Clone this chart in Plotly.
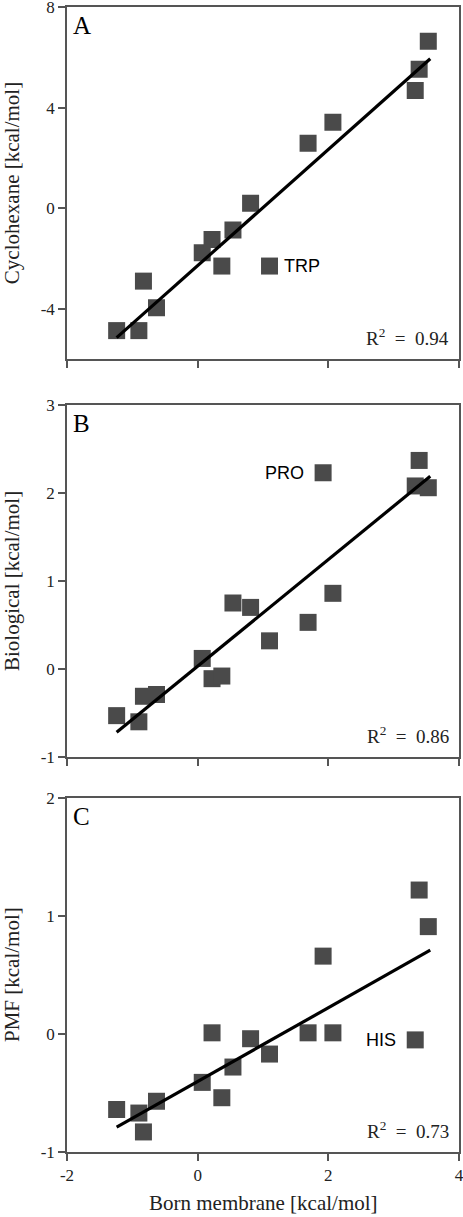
import plotly.graph_objects as go

# Born membrane energies (x, shared by all panels)
born = [-1.24, -0.90, -0.83, -0.63, 0.07, 0.22, 0.37, 0.54, 0.81, 1.10, 1.69, 2.07, 1.92, 3.33, 3.39, 3.53]
# Panel A: cyclohexane (no value for the PRO residue)
cyclohexane = [-4.87, -4.87, -2.90, -3.96, -1.77, -1.24, -2.30, -0.86, 0.20, -2.30, 2.59, 3.42, None, 4.69, 5.53, 6.65]
# Panel B: biological scale
biological = [-0.53, -0.60, -0.31, -0.29, 0.12, -0.11, -0.08, 0.75, 0.70, 0.32, 0.53, 0.86, 2.23, 2.08, 2.37, 2.06]
# Panel C: PMF
pmf = [-0.64, -0.67, -0.83, -0.57, -0.41, 0.01, -0.54, -0.28, -0.04, -0.17, 0.01, 0.01, 0.66, -0.05, 1.22, 0.91]

# fitted regression line end points
fit_x = [-1.24, 3.56]
fit_a = [-5.15, 5.95]
fit_b = [-0.72, 2.19]
fit_c = [-0.79, 0.71]

r2_values = ["0.94", "0.86", "0.73"]
panel_letters = ["A", "B", "C"]
y_titles = ["Cyclohexane [kcal/mol]", "Biological [kcal/mol]", "PMF [kcal/mol]"]
x_title = "Born membrane [kcal/mol]"

x_ticks = [-2, 0, 2, 4]
x_ticktext = ["-2", "0", "2", "4"]
y_ticks_a = [-4, 0, 4, 8]
y_ticktext_a = ["-4", "0", "4", "8"]
y_ticks_b = [-1, 0, 1, 2, 3]
y_ticktext_b = ["-1", "0", "1", "2", "3"]
y_ticks_c = [-1, 0, 1, 2]
y_ticktext_c = ["-1", "0", "1", "2"]

y_ranges = [[-6, 8], [-1, 3], [-1, 2]]

# outlier labels: (panel index, point index, text, side)
outliers = [(0, 9, "TRP", "right"), (1, 12, "PRO", "left"), (2, 13, "HIS", "left")]

series = [cyclohexane, biological, pmf]
fits = [fit_a, fit_b, fit_c]
y_tick_sets = [(y_ticks_a, y_ticktext_a), (y_ticks_b, y_ticktext_b), (y_ticks_c, y_ticktext_c)]

H = 1217
top_px = [7.3, 405, 798]
bot_px = [359, 757, 1152]
m_t, m_b = 7, H - 1152
plot_h = H - m_t - m_b

SERIF = "Liberation Serif"
SANS = "Liberation Sans"
MARKER_COLOR = "#4a4a4a"
LINE_COLOR = "#555555"
TEXT_COLOR = "#222222"

fig = go.Figure()
annotations = []
for i in range(3):
    xa = "x" if i == 0 else f"x{i+1}"
    ya = "y" if i == 0 else f"y{i+1}"
    fig.add_trace(go.Scatter(
        x=born, y=series[i], mode="markers", xaxis=xa, yaxis=ya,
        marker=dict(symbol="square", size=17, color=MARKER_COLOR, line=dict(width=0)),
        showlegend=False, hoverinfo="skip"))
    fig.add_trace(go.Scatter(
        x=fit_x, y=fits[i], mode="lines", xaxis=xa, yaxis=ya,
        line=dict(color="black", width=3.2), showlegend=False, hoverinfo="skip"))

    d0 = (1152 - bot_px[i]) / plot_h
    d1 = min(1.0, (1152 - top_px[i]) / plot_h)
    tv, tt = y_tick_sets[i]
    axkey_x = "xaxis" if i == 0 else f"xaxis{i+1}"
    axkey_y = "yaxis" if i == 0 else f"yaxis{i+1}"
    fig.update_layout(**{
        axkey_x: dict(
            domain=[0, 1], range=[-2, 4], anchor=ya, automargin=False,
            tickvals=x_ticks, ticktext=x_ticktext, showticklabels=(i == 2),
            ticks="outside", ticklen=7, tickwidth=1.5, tickcolor=LINE_COLOR,
            showline=True, linecolor=LINE_COLOR, linewidth=1.5, mirror=True,
            showgrid=False, zeroline=False, ticklabeloverflow="allow",
            tickfont=dict(family=SERIF, size=17, color=TEXT_COLOR),
        ),
        axkey_y: dict(
            domain=[d0, d1], range=y_ranges[i], anchor=xa, automargin=False,
            tickvals=tv, ticktext=tt,
            ticks="outside", ticklen=7, tickwidth=1.5, tickcolor=LINE_COLOR,
            showline=True, linecolor=LINE_COLOR, linewidth=1.5, mirror=True,
            showgrid=False, zeroline=False, ticklabeloverflow="allow",
            tickfont=dict(family=SERIF, size=17, color=TEXT_COLOR),
        ),
    })

    # y axis title
    annotations.append(dict(
        text=y_titles[i], xref=f"{xa} domain", yref=f"{ya} domain",
        x=0, y=0.5, xanchor="center", yanchor="middle", xshift=-55, textangle=-90,
        showarrow=False, font=dict(family=SERIF, size=21, color=TEXT_COLOR)))
    annotations.append(dict(
        text=panel_letters[i], xref=f"{xa} domain", yref=f"{ya} domain",
        x=0, y=1, xanchor="left", yanchor="top", xshift=4, yshift=-3,
        showarrow=False, font=dict(family=SERIF, size=25, color="black")))
    annotations.append(dict(
        text=f"R<sup>2</sup>\u2002=\u2002{r2_values[i]}", xref=f"{xa} domain", yref=f"{ya} domain",
        x=0.958, y=0, xanchor="right", yanchor="bottom", xshift=8, yshift=8,
        showarrow=False, font=dict(family=SERIF, size=19, color=TEXT_COLOR)))

# x axis title below the bottom panel
annotations.append(dict(
    text=x_title, xref="x3 domain", yref="y3 domain",
    x=0.5, y=0, xanchor="center", yanchor="middle", yshift=-51,
    showarrow=False, font=dict(family=SERIF, size=21, color=TEXT_COLOR)))

for (pi, idx, label, side) in outliers:
    xa = "x" if pi == 0 else f"x{pi+1}"
    ya = "y" if pi == 0 else f"y{pi+1}"
    annotations.append(dict(
        text=label, xref=xa, yref=ya, x=born[idx], y=series[pi][idx],
        xanchor="left" if side == "right" else "right",
        xshift=12 if side == "right" else -17, yanchor="middle",
        showarrow=False, font=dict(family=SANS, size=18, color="black")))

fig.update_layout(
    width=463, height=H,
    margin=dict(l=67, r=4, t=m_t, b=m_b),
    paper_bgcolor="white", plot_bgcolor="white",
    annotations=annotations,
)

fig.write_html("out.html", config={"displayModeBar": False},
               post_script="document.body.style.margin='0';")
